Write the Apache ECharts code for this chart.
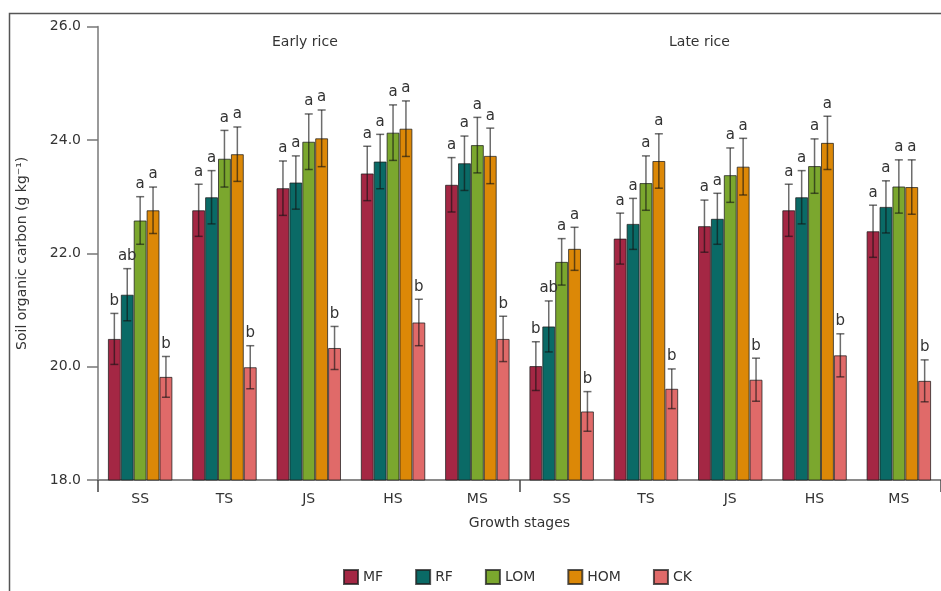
<!DOCTYPE html>
<html>
<head>
<meta charset="utf-8">
<script src="https://cdn.jsdelivr.net/npm/echarts@6/dist/echarts.min.js"></script>
<style>
  html, body { margin: 0; padding: 0; background: #fff; }
  #chart { width: 941px; height: 591px; }
</style>
</head>
<body>
<div id="chart"></div>
<script>
// Growth stages: early rice (first five) then late rice (last five)
const stages = ['SS', 'TS', 'JS', 'HS', 'MS', 'SS', 'TS', 'JS', 'HS', 'MS'];
const treatments = ['MF', 'RF', 'LOM', 'HOM', 'CK'];

// Soil organic carbon means (g kg-1)
const MF  = [20.49, 22.76, 23.15, 23.41, 23.21, 20.01, 22.26, 22.48, 22.76, 22.39];
const RF  = [21.27, 22.99, 23.25, 23.62, 23.59, 20.71, 22.52, 22.61, 22.99, 22.82];
const LOM = [22.58, 23.67, 23.97, 24.13, 23.91, 21.85, 23.24, 23.38, 23.54, 23.18];
const HOM = [22.76, 23.75, 24.03, 24.20, 23.72, 22.08, 23.63, 23.53, 23.95, 23.17];
const CK  = [19.82, 19.99, 20.33, 20.78, 20.49, 19.21, 19.61, 19.77, 20.20, 19.75];

// Standard deviations
const MF_err  = [0.45, 0.46, 0.48, 0.48, 0.48, 0.43, 0.45, 0.46, 0.46, 0.46];
const RF_err  = [0.46, 0.47, 0.47, 0.48, 0.48, 0.45, 0.45, 0.45, 0.47, 0.46];
const LOM_err = [0.42, 0.50, 0.49, 0.49, 0.49, 0.41, 0.48, 0.48, 0.48, 0.47];
const HOM_err = [0.41, 0.48, 0.50, 0.49, 0.49, 0.38, 0.48, 0.50, 0.47, 0.48];
const CK_err  = [0.36, 0.38, 0.38, 0.41, 0.40, 0.35, 0.35, 0.38, 0.38, 0.37];

// Significance letters
const MF_sig  = ['b', 'a', 'a', 'a', 'a', 'b', 'a', 'a', 'a', 'a'];
const RF_sig  = ['ab', 'a', 'a', 'a', 'a', 'ab', 'a', 'a', 'a', 'a'];
const LOM_sig = ['a', 'a', 'a', 'a', 'a', 'a', 'a', 'a', 'a', 'a'];
const HOM_sig = ['a', 'a', 'a', 'a', 'a', 'a', 'a', 'a', 'a', 'a'];
const CK_sig  = ['b', 'b', 'b', 'b', 'b', 'b', 'b', 'b', 'b', 'b'];

const yTicks = [18, 20, 22, 24, 26];
const seasonLabels = ['Early rice', 'Late rice'];

const colors = ['#a42744', '#0a6a66', '#7ba72e', '#dc8807', '#e06a69'];
const means = [MF, RF, LOM, HOM, CK];
const errs = [MF_err, RF_err, LOM_err, HOM_err, CK_err];
const sigs = [MF_sig, RF_sig, LOM_sig, HOM_sig, CK_sig];

const FONT = 'DejaVu Sans';
const CAT_GAP = 0.235;

const chart = echarts.init(document.getElementById('chart'), null, { renderer: 'canvas' });

const barSeries = treatments.map((name, k) => ({
  name: name,
  type: 'bar',
  data: means[k],
  barGap: '0%',
  barCategoryGap: (CAT_GAP * 100) + '%',
  itemStyle: { color: colors[k], borderColor: 'rgba(30,30,30,0.75)', borderWidth: 1 },
  emphasis: { disabled: true },
  z: 2
}));

const errSeries = treatments.map((name, k) => ({
  type: 'custom',
  name: name + ' error',
  z: 5,
  silent: true,
  encode: { x: 0, y: 1 },
  data: means[k].map((v, i) => [i, v, errs[k][i]]),
  renderItem: function (params, api) {
    const i = api.value(0);
    const v = api.value(1);
    const e = api.value(2);
    const letter = sigs[k][i];
    const band = api.size([1, 0])[0];
    const groupW = band * (1 - CAT_GAP);
    const barW = groupW / treatments.length;
    const cx = api.coord([i, v])[0] - groupW / 2 + (k + 0.5) * barW;
    const yTop = api.coord([i, v + e])[1];
    const yBot = api.coord([i, v - e])[1];
    const cap = 4;
    const lineStyle = { stroke: 'rgba(20,20,20,0.62)', lineWidth: 1.5 };
    return {
      type: 'group',
      children: [
        { type: 'line', shape: { x1: cx, y1: yTop, x2: cx, y2: yBot }, style: lineStyle },
        { type: 'line', shape: { x1: cx - cap, y1: yTop, x2: cx + cap, y2: yTop }, style: lineStyle },
        { type: 'line', shape: { x1: cx - cap, y1: yBot, x2: cx + cap, y2: yBot }, style: lineStyle },
        {
          type: 'text',
          style: {
            x: cx, y: yTop - 5, text: letter,
            align: 'center', verticalAlign: 'bottom',
            fontFamily: FONT, fontSize: 15, fill: '#333'
          }
        }
      ]
    };
  }
}));

const option = {
  backgroundColor: '#fff',
  animation: false,
  textStyle: { fontFamily: FONT },
  grid: { left: 98, right: -6.5, top: 26.7, bottom: 111, containLabel: false },
  legend: {
    data: treatments,
    left: 338,
    top: 564,
    itemWidth: 14,
    itemHeight: 14,
    itemGap: 32,
    icon: 'rect',
    textStyle: { fontFamily: FONT, fontSize: 14, color: '#333' }
  },
  xAxis: [
    {
      type: 'category',
      data: stages,
      name: 'Growth stages',
      nameLocation: 'middle',
      nameGap: 36,
      nameTextStyle: { fontFamily: FONT, fontSize: 14, color: '#333' },
      axisLine: { lineStyle: { color: '#8a8a8a', width: 2 } },
      axisTick: { show: false },
      axisLabel: { fontFamily: FONT, fontSize: 14, color: '#333', margin: 12, interval: 0 }
    },
    {
      // season axis: its boundary ticks mark where early rice ends and late rice begins
      type: 'category',
      data: seasonLabels,
      position: 'bottom',
      axisLine: { show: false },
      axisTick: { show: true, length: 12, lineStyle: { color: '#444', width: 1.5 } },
      axisLabel: { show: false },
      splitLine: { show: false }
    }
  ],
  yAxis: {
    type: 'value',
    min: yTicks[0],
    max: yTicks[yTicks.length - 1],
    interval: 2,
    name: 'Soil organic carbon (g kg⁻¹)',
    nameLocation: 'middle',
    nameGap: 69,
    nameTextStyle: { fontFamily: FONT, fontSize: 14, color: '#333' },
    axisLine: { show: true, lineStyle: { color: '#9a9a9a', width: 2 } },
    axisTick: { show: true, length: 11, lineStyle: { color: '#777', width: 1.5 } },
    splitLine: { show: false },
    axisLabel: {
      fontFamily: FONT, fontSize: 14, color: '#333', margin: 17,
      formatter: function (v) { return v.toFixed(1); }
    }
  },
  graphic: [
    {
      type: 'rect', silent: true, z: -1,
      shape: { x: 9.5, y: 13.5, width: 945, height: 590 },
      style: { fill: 'none', stroke: '#555', lineWidth: 1.5 }
    },
    {
      type: 'text', left: 272, top: 35,
      style: { text: seasonLabels[0], fontFamily: FONT, fontSize: 14, fill: '#333' }
    },
    {
      type: 'text', left: 669, top: 35,
      style: { text: seasonLabels[1], fontFamily: FONT, fontSize: 14, fill: '#333' }
    }
  ],
  series: barSeries.concat(errSeries)
};

chart.setOption(option);
</script>
</body>
</html>
